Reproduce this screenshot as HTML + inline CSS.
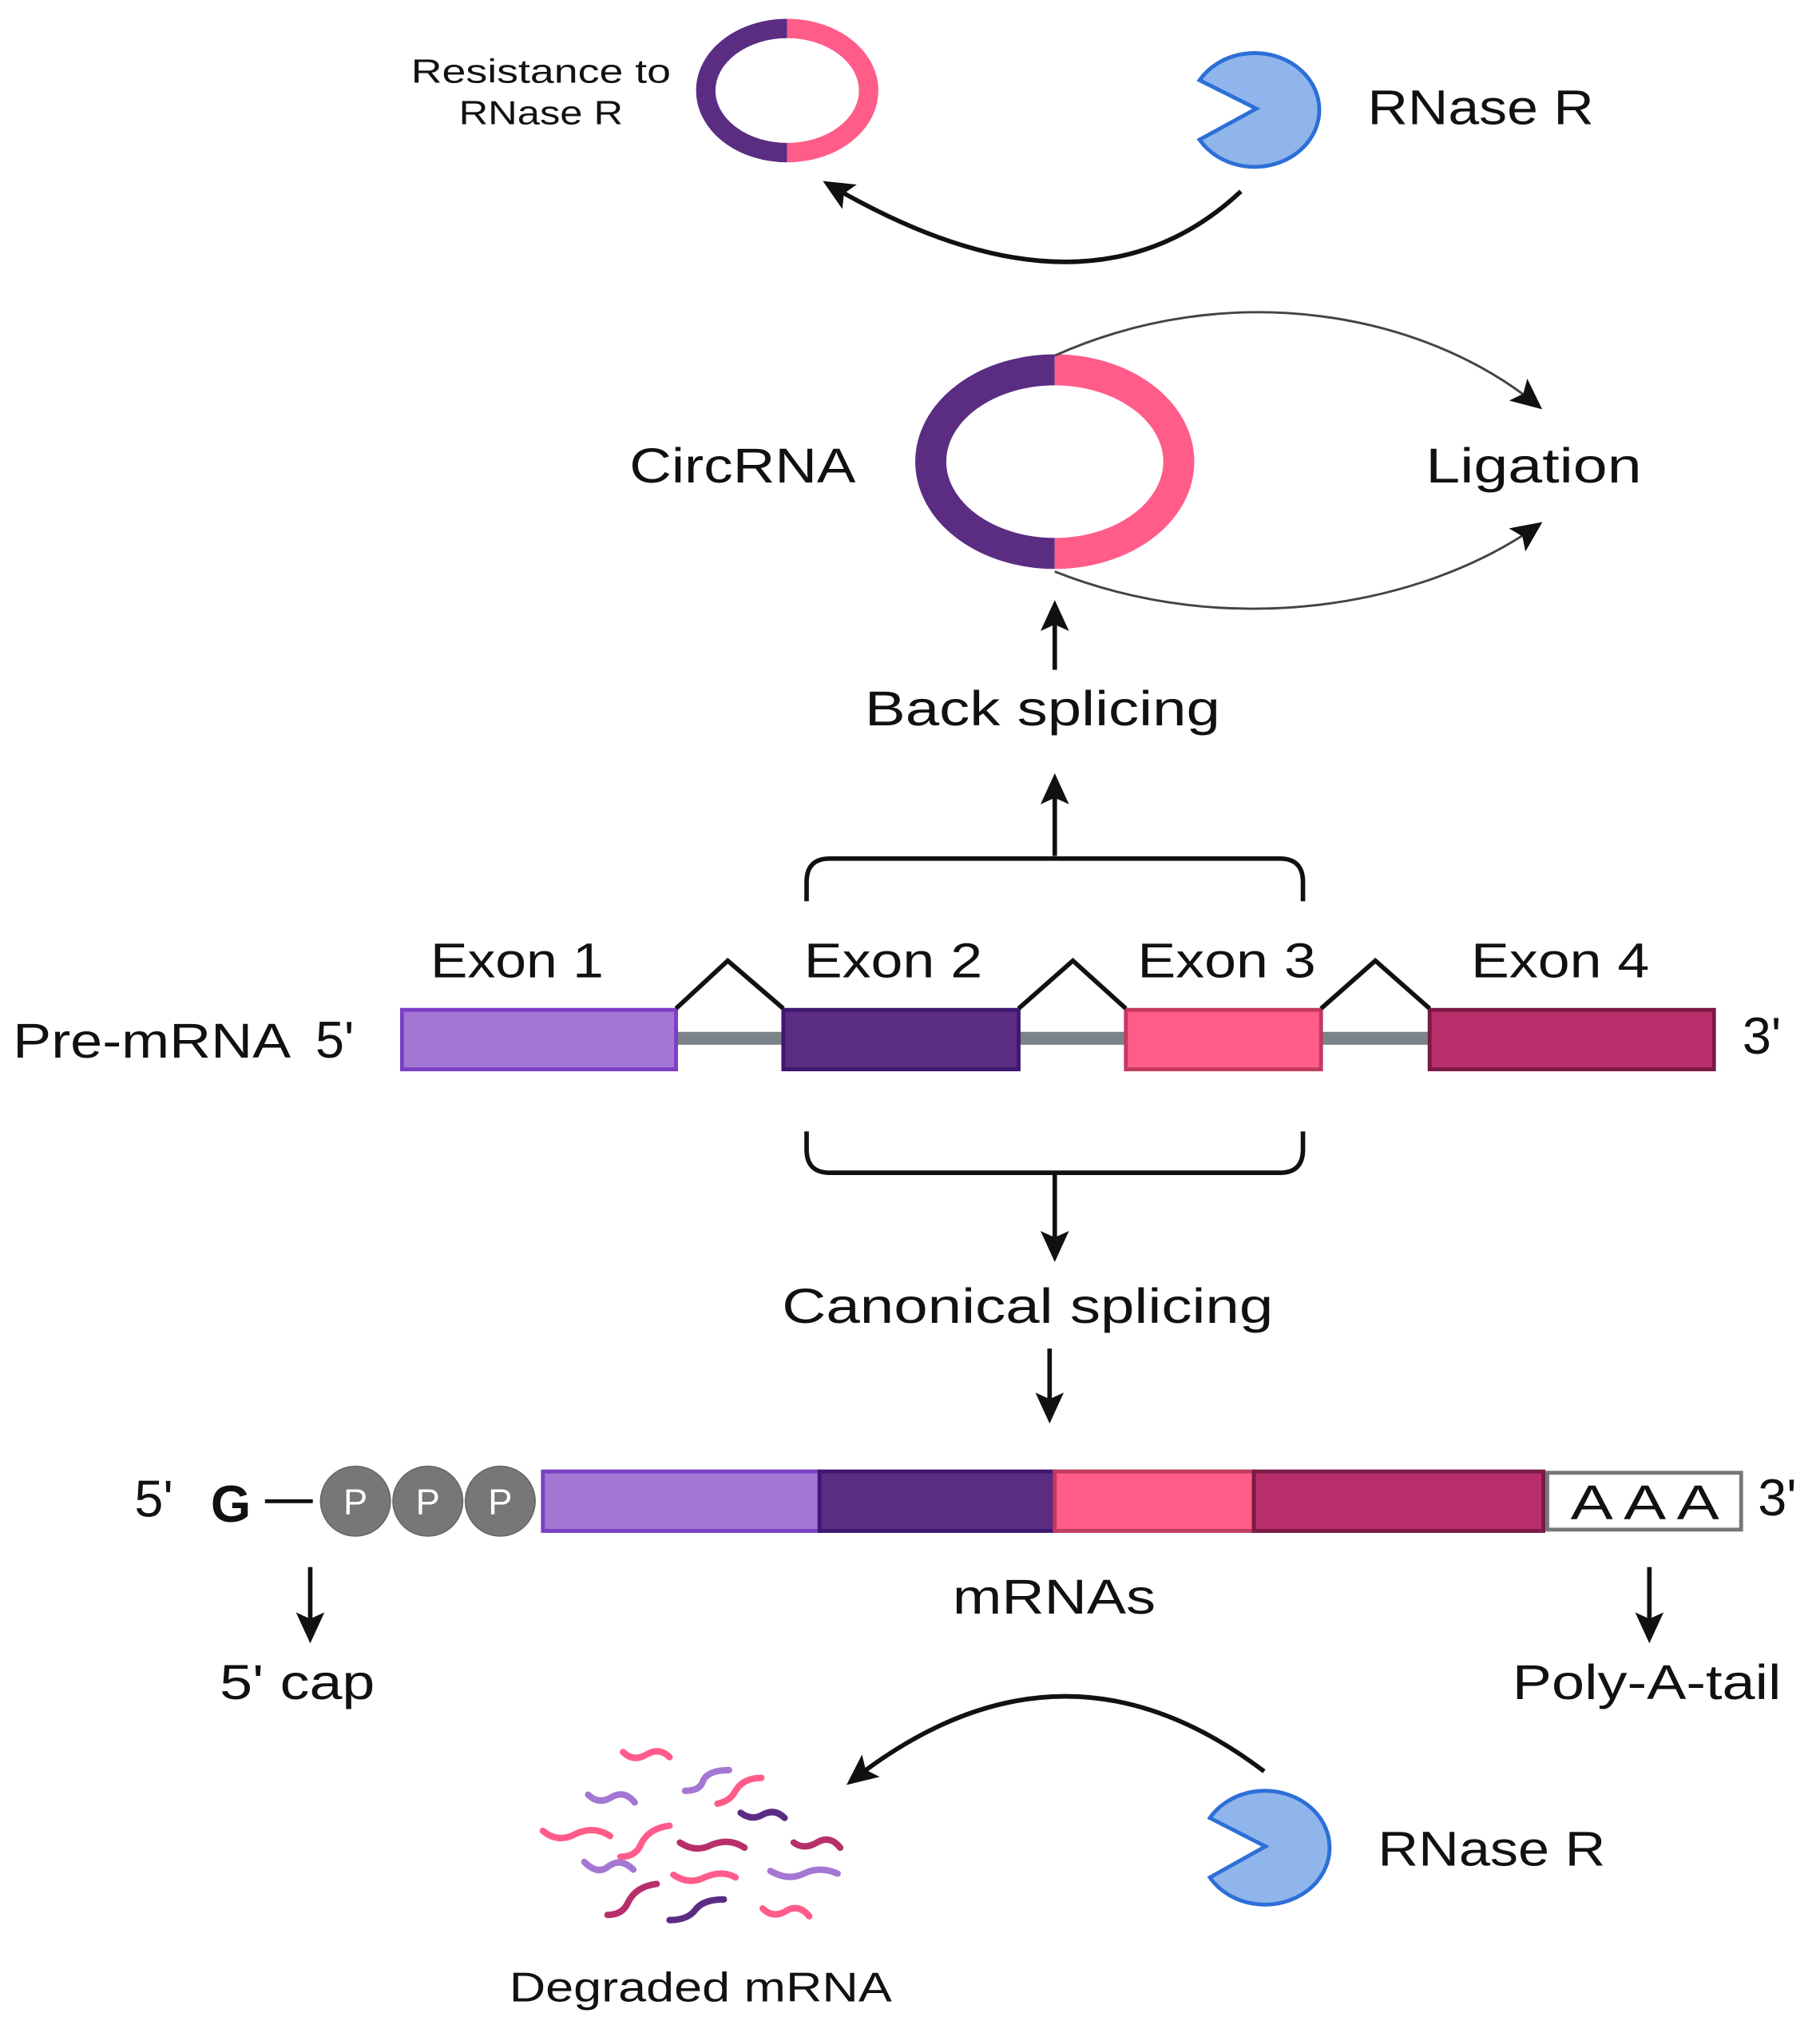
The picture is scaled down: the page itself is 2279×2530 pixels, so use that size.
<!DOCTYPE html>
<html><head><meta charset="utf-8"><style>
html,body{margin:0;padding:0;background:#fff}
svg{display:block}
text{font-family:"Liberation Sans",sans-serif;fill:#111}
</style></head><body>
<svg width="2279" height="2530" viewBox="0 0 1408 1563" xmlns="http://www.w3.org/2000/svg">
<defs>
<marker id="ah2" markerWidth="24" markerHeight="22" refX="20" refY="11" orient="auto" markerUnits="userSpaceOnUse" viewBox="0 0 24 22">
<path d="M0,0 L24,11 L0,22 L5,11 z" fill="#111"/></marker>
</defs>

<!-- Top small circRNA -->
<text x="318" y="64" font-size="26" textLength="201" lengthAdjust="spacingAndGlyphs">Resistance to</text>
<text x="355" y="96" font-size="26" textLength="127" lengthAdjust="spacingAndGlyphs">RNase R</text>
<path d="M609,22 A63,48 0 0 0 609,118" fill="none" stroke="#5a2d82" stroke-width="15"/>
<path d="M609,22 A63,48 0 0 1 609,118" fill="none" stroke="#ff5c8a" stroke-width="15"/>

<!-- top pacman -->
<path d="M972,84 L928,62 A50,44 0 1 1 928,108 Z" fill="#8fb5ea" stroke="#2c6fd8" stroke-width="3"/>
<text x="1058" y="96" font-size="38" textLength="175" lengthAdjust="spacingAndGlyphs">RNase R</text>
<path d="M960,148 Q840,260 640,142" fill="none" stroke="#111" stroke-width="3.5" marker-end="url(#ah2)"/>

<!-- big circRNA -->
<path d="M816,286 A96,71 0 0 0 816,428" fill="none" stroke="#5a2d82" stroke-width="24"/>
<path d="M816,286 A96,71 0 0 1 816,428" fill="none" stroke="#ff5c8a" stroke-width="24"/>
<text x="487" y="373" font-size="38" textLength="175" lengthAdjust="spacingAndGlyphs">CircRNA</text>
<text x="1103" y="373" font-size="38" textLength="167" lengthAdjust="spacingAndGlyphs">Ligation</text>
<path d="M816,275 C950,215 1100,240 1190,314" fill="none" stroke="#444" stroke-width="1.8" marker-end="url(#ah2)"/>
<path d="M816,442 C950,495 1100,470 1190,406" fill="none" stroke="#444" stroke-width="1.8" marker-end="url(#ah2)"/>

<!-- back splicing -->
<path d="M816,518 L816,468" stroke="#111" stroke-width="3.5" marker-end="url(#ah2)"/>
<text x="669" y="561" font-size="38" textLength="275" lengthAdjust="spacingAndGlyphs">Back splicing</text>
<path d="M816,662 L816,602" stroke="#111" stroke-width="3.5" marker-end="url(#ah2)"/>
<path d="M624,697 L624,682 Q624,664 642,664 L990,664 Q1008,664 1008,682 L1008,697" fill="none" stroke="#111" stroke-width="3.5"/>

<!-- exon labels -->
<text x="333" y="756" font-size="38" textLength="134" lengthAdjust="spacingAndGlyphs">Exon 1</text>
<text x="622" y="756" font-size="38" textLength="138" lengthAdjust="spacingAndGlyphs">Exon 2</text>
<text x="880" y="756" font-size="38" textLength="138" lengthAdjust="spacingAndGlyphs">Exon 3</text>
<text x="1138" y="756" font-size="38" textLength="138" lengthAdjust="spacingAndGlyphs">Exon 4</text>

<!-- pre-mRNA -->
<text x="10" y="818" font-size="38" textLength="215" lengthAdjust="spacingAndGlyphs">Pre-mRNA</text>
<text x="244" y="818" font-size="40">5'</text>
<text x="1348" y="815" font-size="40">3'</text>
<line x1="523" y1="803" x2="1106" y2="803" stroke="#7b8389" stroke-width="10"/>
<rect x="311" y="781" width="212" height="46" fill="#a577d4" stroke="#7a3fc4" stroke-width="3"/>
<rect x="606" y="781" width="182" height="46" fill="#5a2d82" stroke="#3e1770" stroke-width="3"/>
<rect x="871" y="781" width="151" height="46" fill="#ff5c8a" stroke="#c23a5f" stroke-width="3"/>
<rect x="1106" y="781" width="220" height="46" fill="#b82e6b" stroke="#7a1a45" stroke-width="3"/>
<path d="M523,780 L563,743 L606,780 M788,780 L830,743 L871,780 M1022,780 L1064,743 L1106,780" fill="none" stroke="#111" stroke-width="3.5"/>

<!-- canonical -->
<path d="M624,875 L624,889 Q624,907 642,907 L990,907 Q1008,907 1008,889 L1008,875" fill="none" stroke="#111" stroke-width="3.5"/>
<path d="M816,907 L816,972" stroke="#111" stroke-width="3.5" marker-end="url(#ah2)"/>
<text x="605" y="1023" font-size="38" textLength="380" lengthAdjust="spacingAndGlyphs">Canonical splicing</text>
<path d="M812,1043 L812,1097" stroke="#111" stroke-width="3.5" marker-end="url(#ah2)"/>

<!-- mRNA -->
<text x="104" y="1173" font-size="40">5'</text>
<text x="163" y="1177" font-size="40" font-weight="bold">G</text>
<line x1="205" y1="1161" x2="242" y2="1161" stroke="#111" stroke-width="3"/>
<g fill="#777" stroke="#666" stroke-width="1">
<circle cx="275" cy="1161" r="27"/><circle cx="331" cy="1161" r="27"/><circle cx="387" cy="1161" r="27"/></g>
<g font-size="28" text-anchor="middle"><text x="275" y="1171" style="fill:#fff">P</text><text x="331" y="1171" style="fill:#fff">P</text><text x="387" y="1171" style="fill:#fff">P</text></g>
<rect x="420" y="1138" width="214" height="46" fill="#a577d4" stroke="#7a3fc4" stroke-width="3"/>
<rect x="634" y="1138" width="182" height="46" fill="#5a2d82" stroke="#3e1770" stroke-width="3"/>
<rect x="816" y="1138" width="154" height="46" fill="#ff5c8a" stroke="#c23a5f" stroke-width="3"/>
<rect x="970" y="1138" width="224" height="46" fill="#b82e6b" stroke="#7a1a45" stroke-width="3"/>
<rect x="1197" y="1139" width="150" height="44" fill="#fff" stroke="#777" stroke-width="3"/>
<text x="1215" y="1175" font-size="38" textLength="115" lengthAdjust="spacingAndGlyphs">A A A</text>
<text x="1360" y="1172" font-size="40">3'</text>

<path d="M240,1212 L240,1267" stroke="#111" stroke-width="3.5" marker-end="url(#ah2)"/>
<text x="170" y="1314" font-size="38" textLength="120" lengthAdjust="spacingAndGlyphs">5' cap</text>
<text x="737" y="1248" font-size="38" textLength="157" lengthAdjust="spacingAndGlyphs">mRNAs</text>
<path d="M1276,1212 L1276,1267" stroke="#111" stroke-width="3.5" marker-end="url(#ah2)"/>
<text x="1170" y="1314" font-size="38" textLength="208" lengthAdjust="spacingAndGlyphs">Poly-A-tail</text>

<!-- bottom -->
<path d="M978,1370 Q820,1250 658,1378" fill="none" stroke="#111" stroke-width="3.5" marker-end="url(#ah2)"/>
<path d="M979,1428 L936,1406 A50,44 0 1 1 936,1452 Z" fill="#8fb5ea" stroke="#2c6fd8" stroke-width="3"/>
<text x="1066" y="1443" font-size="38" textLength="176" lengthAdjust="spacingAndGlyphs">RNase R</text>

<g fill="none" stroke-width="5" stroke-linecap="round">
<path d="M482,1355 q8,8 18,2 q10,-6 18,2" stroke="#ff5c8a"/>
<path d="M530,1385 q12,0 14,-8 q4,-8 20,-8" stroke="#a577d4"/>
<path d="M555,1395 q10,-2 14,-10 q6,-10 20,-10" stroke="#ff5c8a"/>
<path d="M455,1388 q8,8 18,2 q10,-6 18,4" stroke="#a577d4"/>
<path d="M573,1402 q8,6 16,2 q10,-6 18,2" stroke="#5a2d82"/>
<path d="M420,1416 q12,10 26,2 q14,-6 26,2" stroke="#ff5c8a"/>
<path d="M480,1436 q12,0 16,-10 q6,-12 22,-14" stroke="#ff5c8a"/>
<path d="M526,1425 q12,8 24,2 q14,-6 26,2" stroke="#b82e6b"/>
<path d="M614,1425 q8,6 18,0 q10,-6 18,4" stroke="#b82e6b"/>
<path d="M452,1440 q10,10 18,4 q10,-8 20,2" stroke="#a577d4"/>
<path d="M521,1450 q12,8 24,2 q14,-6 24,0" stroke="#ff5c8a"/>
<path d="M596,1447 q14,8 26,2 q12,-6 26,0" stroke="#a577d4"/>
<path d="M470,1481 q12,0 16,-10 q6,-12 22,-14" stroke="#b82e6b"/>
<path d="M518,1485 q14,0 20,-8 q6,-8 22,-8" stroke="#5a2d82"/>
<path d="M590,1476 q8,8 18,2 q10,-6 18,4" stroke="#ff5c8a"/>
</g>
<text x="394" y="1548" font-size="32" textLength="296" lengthAdjust="spacingAndGlyphs">Degraded mRNA</text>
</svg>
</body></html>
